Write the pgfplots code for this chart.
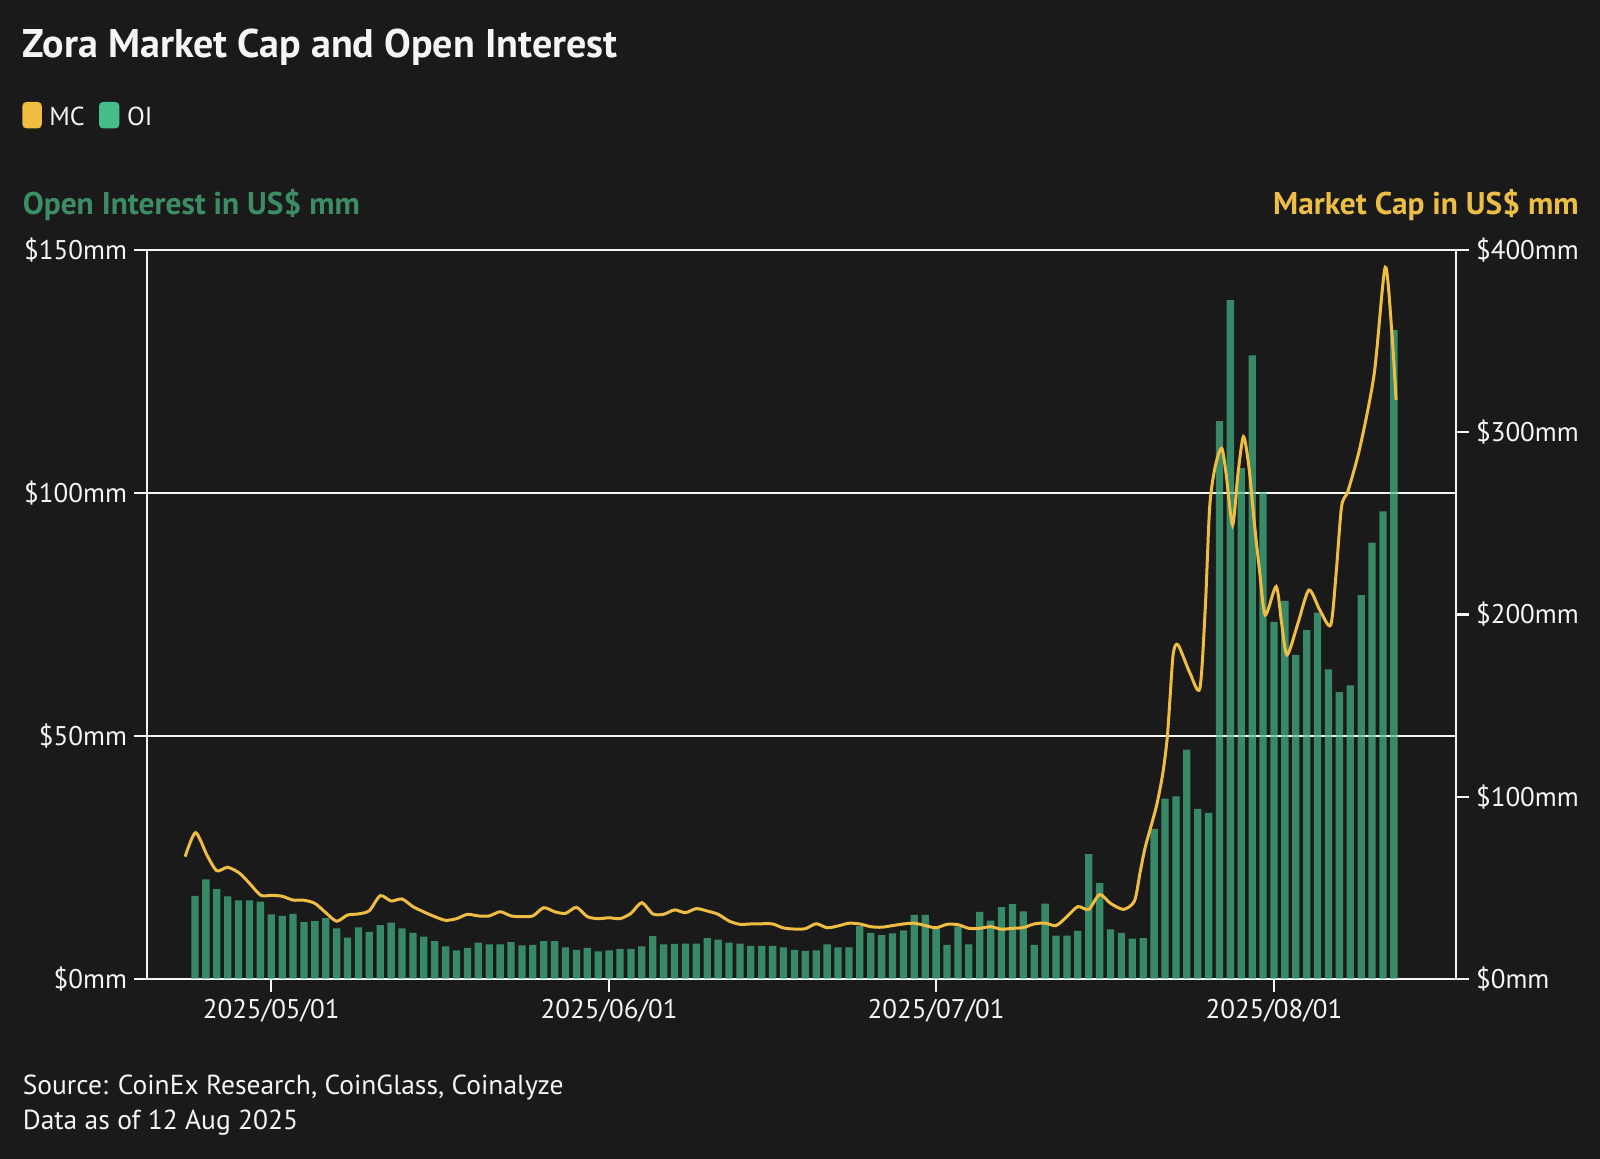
\documentclass[border=0pt]{standalone}
\usepackage{fontspec}
\setmainfont{PT Sans}
\usepackage{pgfplots}
\usepackage{pgfplotstable}
\pgfplotsset{compat=1.18}

\definecolor{bgc}{RGB}{26,26,26}
\definecolor{oi}{RGB}{69,190,140}
\definecolor{mc}{RGB}{240,188,66}
\definecolor{oititle}{RGB}{60,140,100}
\definecolor{mctitle}{RGB}{237,190,70}
\definecolor{txt}{RGB}{245,245,245}

% day 0 = 2025/05/01
\pgfplotstableread{
day oi
-7 17.1
-6 20.5
-5 18.5
-4 17.0
-3 16.2
-2 16.2
-1 15.9
0 13.3
1 13.0
2 13.4
3 11.7
4 11.9
5 12.5
6 10.4
7 8.5
8 10.6
9 9.7
10 11.1
11 11.6
12 10.4
13 9.5
14 8.7
15 7.8
16 6.7
17 5.9
18 6.4
19 7.5
20 7.1
21 7.1
22 7.6
23 6.9
24 7.0
25 7.8
26 7.8
27 6.5
28 6.0
29 6.4
30 5.7
31 5.9
32 6.2
33 6.2
34 6.7
35 8.8
36 7.1
37 7.2
38 7.3
39 7.3
40 8.4
41 8.1
42 7.5
43 7.3
44 6.8
45 6.8
46 6.8
47 6.5
48 6.0
49 5.8
50 5.9
51 7.1
52 6.5
53 6.5
54 10.9
55 9.5
56 9.0
57 9.4
58 10.0
59 13.2
60 13.2
61 10.3
62 7.0
63 10.8
64 7.1
65 13.8
66 12.0
67 14.8
68 15.4
69 13.9
70 7.0
71 15.5
72 8.9
73 8.9
74 9.9
75 25.7
76 19.7
77 10.2
78 9.5
79 8.3
80 8.4
81 30.9
82 37.1
83 37.6
84 47.2
85 35.0
86 34.2
87 114.8
88 139.7
89 105.1
90 128.3
91 100.1
92 73.5
93 77.8
94 66.7
95 71.8
96 75.4
97 63.7
98 59.0
99 60.4
100 79.0
101 89.8
102 96.2
103 133.5
}\oidata

\pgfplotstableread{
day mc
-7.9 67.1
-6.95 80.3
-5.9 68.0
-5.0 59.4
-4.0 61.3
-2.9 58.0
-2.0 52.5
-0.95 45.9
0 45.9
1 45.4
2 43.3
3 43.2
4 41.5
5 36.4
6 31.7
7 35.1
8 35.7
9 37.5
10 45.7
11 42.8
12 43.9
13 39.7
14 36.8
15 34.2
16 32.2
17 33.1
18 35.5
19 34.6
20 34.6
21 36.9
22 34.6
23 34.2
24 34.6
25 39.1
26 36.9
27 36.0
28 39.3
29 34.2
30 33.1
31 33.6
32 33.1
33 36.0
34 41.9
35 35.7
36 35.5
37 37.9
38 36.4
39 38.6
40 37.3
41 35.5
42 31.8
43 30.0
44 30.2
45 30.3
46 30.2
47 28.0
48 27.4
49 27.6
50 30.3
51 28.1
52 29.1
53 30.6
54 30.2
55 28.7
56 28.4
57 29.3
58 30.2
59 30.6
60 29.3
61 28.1
62 30.0
63 29.8
64 27.8
65 27.8
66 28.7
67 27.3
68 27.8
69 28.2
70 30.2
71 30.7
72 29.3
73 34.2
74 39.7
75 38.2
76 46.3
77 41.5
78.2 38.2
79.2 42.8
79.7 58.0
80.2 72.6
81.2 94.5
81.8 112.9
82.2 132.0
82.45 153.1
82.76 178.7
83.2 183.3
84.3 167.7
85.2 159.5
85.7 204.0
86.1 259.0
86.6 281.0
87.2 291.2
87.6 277.5
88.2 249.1
88.7 277.6
89.2 297.6
89.7 281.0
90.2 250.0
90.7 222.6
91.2 199.7
92.2 215.3
92.7 195.2
93.2 177.8
94.2 195.2
95.2 213.4
96.2 202.5
97.2 194.2
97.7 222.6
98.2 259.2
98.8 268.0
99.9 292.0
101.2 332.3
102.2 390.5
102.8 356.0
103.2 317.7
}\mcdata

\begin{document}
\begin{tikzpicture}[x=1pt,y=1pt]
\fill[bgc] (0,0) rectangle (800,579.5);

\pgfplotsset{
  base/.style={
    at={(73.5pt,90pt)}, anchor=south west,
    scale only axis, width=654.5pt, height=364.5pt,
    xmin=-11.4, xmax=108.7,
    axis line style={txt, line width=1.2pt},
    tick style={txt, line width=1.2pt},
    major tick length=6.5pt,
    tick align=outside,
    ticklabel style={font=\fontsize{13.5}{16}\selectfont, text=txt},
  },
}

\begin{axis}[base,
  ymin=0, ymax=150,
  axis x line*=bottom, axis y line*=left,
  xtick={0,31,61,92},
  xticklabels={2025/05/01,2025/06/01,2025/07/01,2025/08/01},
  ytick={0,50,100,150},
  yticklabels={\$0mm,\$50mm,\$100mm,\$150mm},
  ymajorgrids,
  grid style={txt, line width=1.2pt},
]
\addplot[ybar, bar width=0.67, bar shift=0pt, fill=oi, fill opacity=0.68, draw=none]
  table[x=day, y=oi] {\oidata};
\end{axis}

\begin{axis}[base,
  ymin=0, ymax=400,
  axis x line=none, axis y line*=right,
  ytick={0,100,200,300,400},
  yticklabels={\$0mm,\$100mm,\$200mm,\$300mm,\$400mm},
]
\addplot[mc, line width=1.5pt, smooth, tension=0.45, mark=none]
  table[x=day, y=mc] {\mcdata};
\end{axis}

% title, legend, axis titles, footer
\node[anchor=base west, inner sep=0pt, text=txt, font=\fontsize{20}{23}\selectfont\bfseries]
  at (11.2,550.5) {Zora Market Cap and Open Interest};
\fill[mc, rounded corners=2pt] (11.2,515.3) rectangle (20.9,528.5);
\node[anchor=base west, inner sep=0pt, text=txt, font=\fontsize{13}{15}\selectfont]
  at (24.5,516.8) {MC};
\fill[oi, rounded corners=2pt] (49.5,515.3) rectangle (59.7,528.5);
\node[anchor=base west, inner sep=0pt, text=txt, font=\fontsize{13}{15}\selectfont]
  at (63.3,516.8) {OI};
\node[anchor=base west, inner sep=0pt, text=oititle, font=\fontsize{15.7}{18}\selectfont\bfseries]
  at (11.2,472) {Open Interest in US\$ mm};
\node[anchor=base east, inner sep=0pt, text=mctitle, font=\fontsize{15.7}{18}\selectfont\bfseries]
  at (789.5,472) {Market Cap in US\$ mm};
\node[anchor=base west, inner sep=0pt, text=txt, font=\fontsize{13.75}{16}\selectfont]
  at (11.2,32) {Source: CoinEx Research, CoinGlass, Coinalyze};
\node[anchor=base west, inner sep=0pt, text=txt, font=\fontsize{13.75}{16}\selectfont]
  at (11.2,14.5) {Data as of 12 Aug 2025};

\pgfresetboundingbox
\useasboundingbox (0,0) rectangle (800,579.5);
\end{tikzpicture}
\end{document}
